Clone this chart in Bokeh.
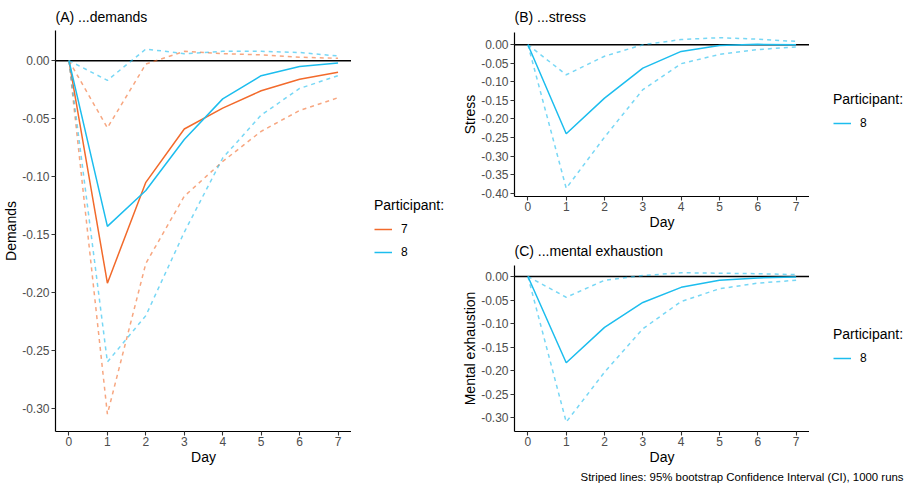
from bokeh.plotting import figure
from bokeh.layouts import row, column
from bokeh.models import (Legend, LegendItem, Span, Label, FixedTicker,
                          PrintfTickFormatter, Range1d)
from bokeh.embed import file_html
from bokeh.resources import INLINE

# ---------------- data ----------------
days = [0, 1, 2, 3, 4, 5, 6, 7]

demands_p7 = [0, -0.192, -0.105, -0.059, -0.041, -0.026, -0.016, -0.010]
demands_p7_upper = [0, -0.058, -0.003, 0.008, 0.006, 0.005, 0.003, 0.002]
demands_p7_lower = [0, -0.305, -0.175, -0.117, -0.087, -0.061, -0.043, -0.032]
demands_p8 = [0, -0.143, -0.112, -0.068, -0.033, -0.013, -0.005, -0.002]
demands_p8_upper = [0, -0.017, 0.010, 0.006, 0.008, 0.008, 0.007, 0.004]
demands_p8_lower = [0, -0.260, -0.220, -0.148, -0.084, -0.047, -0.024, -0.013]

stress_p8 = [0, -0.240, -0.144, -0.063, -0.018, -0.002, 0.001, 0.000]
stress_p8_upper = [0, -0.081, -0.031, 0.000, 0.014, 0.019, 0.015, 0.009]
stress_p8_lower = [0, -0.387, -0.249, -0.121, -0.051, -0.026, -0.013, -0.006]

exhaustion_p8 = [0, -0.183, -0.108, -0.055, -0.023, -0.008, -0.003, -0.001]
exhaustion_p8_upper = [0, -0.044, -0.008, 0.002, 0.008, 0.007, 0.006, 0.004]
exhaustion_p8_lower = [0, -0.309, -0.203, -0.111, -0.053, -0.026, -0.014, -0.008]

demands_ticks = [0.0, -0.05, -0.10, -0.15, -0.20, -0.25, -0.30]
stress_ticks = [0.0, -0.05, -0.10, -0.15, -0.20, -0.25, -0.30, -0.35, -0.40]
exhaustion_ticks = [0.0, -0.05, -0.10, -0.15, -0.20, -0.25, -0.30]

participants = ["7", "8"]
caption = "Striped lines: 95% bootstrap Confidence Interval (CI), 1000 runs"

ORANGE = "#F26A2B"
BLUE = "#1CBDEE"
FONT = "Liberation Sans"


def make_panel(title, ylabel, yrange, yticks, series, fw, fh, bl, bt, bb,
               title_standoff):
    p = figure(frame_width=fw, frame_height=fh,
               min_border_left=bl, min_border_right=0,
               min_border_top=bt, min_border_bottom=bb,
               x_range=Range1d(-0.35, 7.35), y_range=Range1d(*yrange),
               output_backend="svg", toolbar_location=None, title=title)
    p.title.text_font = FONT
    p.title.text_font_size = "14px"
    p.title.text_font_style = "normal"
    p.title.text_color = "black"
    p.title.align = "left"
    p.title.vertical_align = "middle"
    p.title.standoff = title_standoff
    p.title.offset = 0
    p.outline_line_color = None
    p.grid.visible = False
    p.background_fill_color = "white"
    p.border_fill_color = "white"

    for ax in (p.xaxis[0], p.yaxis[0]):
        ax.axis_line_color = "black"
        ax.axis_line_width = 1.2
        ax.major_tick_line_color = "#333333"
        ax.major_tick_line_width = 1.1
        ax.major_tick_out = 4
        ax.major_tick_in = 0
        ax.minor_tick_line_color = None
        ax.major_label_text_font = FONT
        ax.major_label_text_font_size = "12px"
        ax.major_label_text_color = "#4D4D4D"
        ax.axis_label_text_font = FONT
        ax.axis_label_text_font_size = "14px"
        ax.axis_label_text_font_style = "normal"
        ax.axis_label_text_color = "black"
    p.xaxis.ticker = FixedTicker(ticks=days)
    p.xaxis.axis_label = "Day"
    p.xaxis.major_label_standoff = 1
    p.xaxis.axis_label_standoff = 0
    p.yaxis.ticker = FixedTicker(ticks=yticks)
    p.yaxis.formatter = PrintfTickFormatter(format="%.2f")
    p.yaxis.axis_label = ylabel
    p.yaxis.major_label_standoff = 2
    p.yaxis.axis_label_standoff = 0

    p.add_layout(Span(location=0, dimension="width", line_color="black",
                      line_width=1.5, level="underlay"))

    for label, color, mid, lo, hi in series:
        p.line(days, hi, line_color=color, line_alpha=0.6, line_width=1.5,
               line_dash="4 4")
        p.line(days, lo, line_color=color, line_alpha=0.6, line_width=1.5,
               line_dash="4 4")
        p.line(days, mid, line_color=color, line_width=1.5)
    return p


def make_legend_fig(series, w, fh, bt, bb, loc):
    # strip to the right of a panel; same vertical frame as that panel
    lf = figure(frame_width=w, frame_height=fh,
                min_border_left=0, min_border_right=0,
                min_border_top=bt, min_border_bottom=bb,
                x_axis_type=None, y_axis_type=None,
                x_range=Range1d(-2, -1), y_range=Range1d(-1, 1),
                output_backend="svg", toolbar_location=None)
    lf.outline_line_color = None
    lf.grid.visible = False
    items = []
    for label, color, mid in series:
        r = lf.line(days, mid, line_color=color, line_width=1.5)
        items.append(LegendItem(label=label, renderers=[r]))
    leg = Legend(items=items, title="Participant:", location=loc,
                 border_line_color=None, background_fill_alpha=0,
                 padding=0, margin=0, spacing=3,
                 glyph_width=18, glyph_height=20, label_height=20,
                 label_standoff=9, title_standoff=6,
                 title_text_font=FONT, title_text_font_size="14px",
                 title_text_font_style="normal", title_text_color="black",
                 label_text_font=FONT, label_text_font_size="12px",
                 label_text_color="black")
    lf.add_layout(leg)
    return lf


pA = make_panel("(A) ...demands", "Demands", (-0.320, 0.026), demands_ticks,
                [(participants[0], ORANGE, demands_p7, demands_p7_lower, demands_p7_upper),
                 (participants[1], BLUE, demands_p8, demands_p8_lower, demands_p8_upper)],
                296, 401, 49, 30, 52, 10)
legA = make_legend_fig([(participants[0], ORANGE, demands_p7),
                        (participants[1], BLUE, demands_p8)], 107, 401, 30, 52, (23, 169))

pB = make_panel("(B) ...stress", "Stress", (-0.409, 0.033), stress_ticks,
                [(participants[1], BLUE, stress_p8, stress_p8_lower, stress_p8_upper)],
                295, 164, 56, 32, 39, 14)
legB = make_legend_fig([(participants[1], BLUE, stress_p8)], 95, 164, 32, 39, (24, 63))

pC = make_panel("(C) ...mental exhaustion", "Mental exhaustion", (-0.329, 0.0234),
                exhaustion_ticks,
                [(participants[1], BLUE, exhaustion_p8, exhaustion_p8_lower, exhaustion_p8_upper)],
                295, 166, 56, 30, 39, 12)
legC = make_legend_fig([(participants[1], BLUE, exhaustion_p8)], 95, 166, 30, 39, (24, 63))

cap = figure(frame_width=446, frame_height=13, min_border_left=0, min_border_right=0,
             min_border_top=0, min_border_bottom=0, x_axis_type=None, y_axis_type=None,
             x_range=Range1d(0, 1), y_range=Range1d(0, 1),
             output_backend="svg", toolbar_location=None)
cap.outline_line_color = None
cap.grid.visible = False
cap.add_layout(Label(x=445, y=6.5, x_units="screen", y_units="screen",
                     text=caption, text_align="right", text_baseline="middle",
                     text_font=FONT, text_font_size="11.4px", text_color="black"))

layout = row(pA, legA, column(row(pB, legB), row(pC, legC), cap))
open("out.html", "w").write(file_html(layout, INLINE))
